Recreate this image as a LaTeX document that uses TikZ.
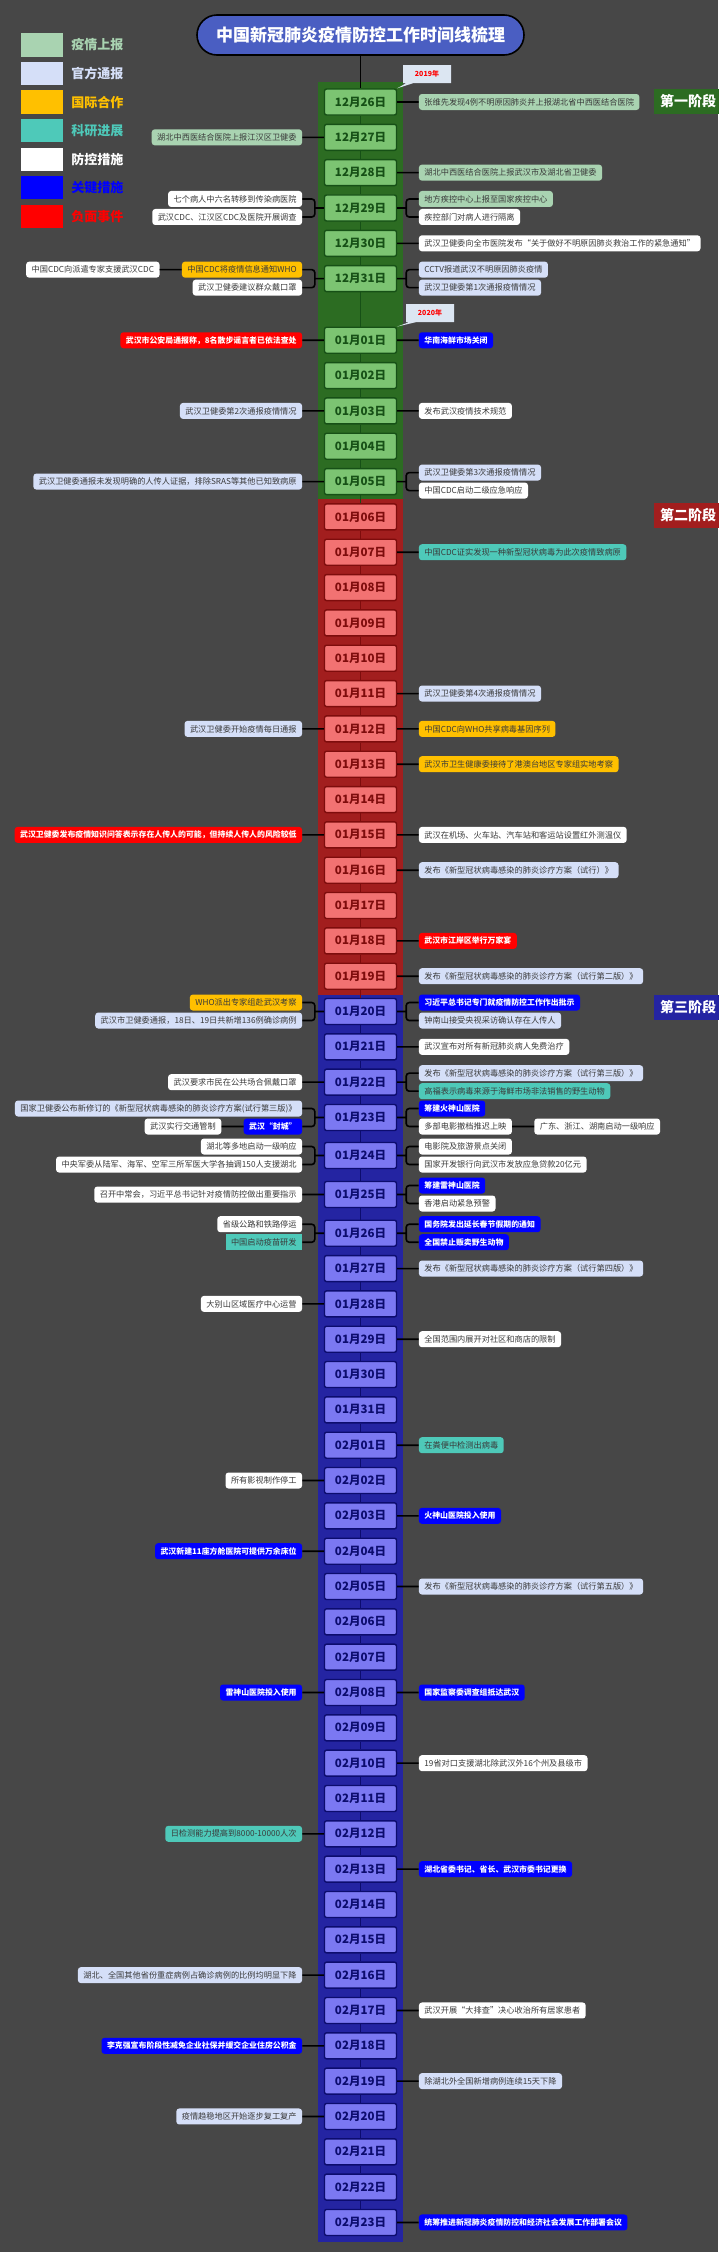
\documentclass[tikz,border=0pt]{standalone}
\usepackage{fontspec}
\newfontfamily\cjk{Noto Sans CJK SC}
\usetikzlibrary{positioning, calc, shapes.callouts}

\definecolor{bgcol}{HTML}{474747}
\definecolor{creport}{HTML}{A9D3B1}
\definecolor{cofficial}{HTML}{D5DFF8}
\definecolor{cintl}{HTML}{FFC000}
\definecolor{cresearch}{HTML}{4EC9B9}
\definecolor{ckey}{HTML}{0000FF}
\definecolor{cneg}{HTML}{FF0000}
\definecolor{cevtext}{HTML}{3A3A3A}
\definecolor{gband}{HTML}{2C6C22}
\definecolor{gfill}{HTML}{7CC472}
\definecolor{gline}{HTML}{165016}
\definecolor{rband}{HTML}{A21E1E}
\definecolor{rfill}{HTML}{F27272}
\definecolor{rline}{HTML}{7E0C0C}
\definecolor{bband}{HTML}{2424A2}
\definecolor{bfill}{HTML}{7B78F2}
\definecolor{bline}{HTML}{0C0C6E}
\definecolor{titlefill}{HTML}{4A5EC2}
\definecolor{ccall}{HTML}{DCE6F2}

\tikzset{
    datebox/.style={draw, rounded corners=2pt, line width=1.4pt, minimum width=72pt,
        minimum height=26pt, inner sep=0pt, font=\cjk\bfseries\fontsize{11.5}{12}\selectfont},
    gdate/.style={datebox, fill=gfill, draw=gline, text=gline},
    rdate/.style={datebox, fill=rfill, draw=rline, text=rline},
    bdate/.style={datebox, fill=bfill, draw=bline, text=bline},
    ev/.style={rounded corners=3pt, minimum height=16pt, inner xsep=5.5pt, inner ysep=0pt,
        text=cevtext, font=\cjk\fontsize{8.2}{9}\selectfont},
    evreport/.style={ev, fill=creport},
    evofficial/.style={ev, fill=cofficial},
    evintl/.style={ev, fill=cintl},
    evresearch/.style={ev, fill=cresearch},
    evmeasure/.style={ev, fill=white},
    evkey/.style={ev, fill=ckey, text=white, font=\cjk\bfseries\fontsize{7.9}{9}\selectfont},
    evneg/.style={ev, fill=cneg, text=white, font=\cjk\bfseries\fontsize{7.9}{9}\selectfont},
    conn/.style={line width=1.6pt, black, rounded corners=3pt},
    legbox/.style={minimum width=42pt, minimum height=23.3pt, inner sep=0pt},
    legtext/.style={inner sep=0pt, font=\cjk\bfseries\fontsize{13}{14}\selectfont},
    stagebox/.style={minimum width=68pt, minimum height=25pt, inner sep=0pt, text=white,
        font=\cjk\bfseries\fontsize{14}{15}\selectfont},
    yearcall/.style={rectangle callout, fill=ccall, text=red, minimum width=48pt,
        minimum height=18pt, inner sep=1pt, font=\cjk\bfseries\fontsize{7}{8}\selectfont},
}

\begin{document}
\begin{tikzpicture}[x=1pt, y=-1pt, node distance=35.33pt]
    \fill[bgcol] (0,0) rectangle (718,2252);
    \useasboundingbox (0,0) rectangle (718,2252);

    % legend
    \node[legbox, fill=creport] (lg1) at (42,45) {};
    \node[legbox, fill=cofficial, below of=lg1, node distance=28.55pt] (lg2) {};
    \node[legbox, fill=cintl, below of=lg2, node distance=28.55pt] (lg3) {};
    \node[legbox, fill=cresearch, below of=lg3, node distance=28.55pt] (lg4) {};
    \node[legbox, fill=white, below of=lg4, node distance=28.55pt] (lg5) {};
    \node[legbox, fill=ckey, below of=lg5, node distance=28.55pt] (lg6) {};
    \node[legbox, fill=cneg, below of=lg6, node distance=28.55pt] (lg7) {};
    \node[legtext, text=creport, right=8pt of lg1] (lt1) {疫情上报};
    \node[legtext, text=cofficial, right=8pt of lg2] (lt2) {官方通报};
    \node[legtext, text=cintl, right=8pt of lg3] (lt3) {国际合作};
    \node[legtext, text=cresearch, right=8pt of lg4] (lt4) {科研进展};
    \node[legtext, text=white, right=8pt of lg5] (lt5) {防控措施};
    \node[legtext, text=ckey, right=8pt of lg6] (lt6) {关键措施};
    \node[legtext, text=cneg, right=8pt of lg7] (lt7) {负面事件};

    % title
    \node[draw=black, line width=1.6pt, fill=titlefill, rounded corners=20pt, minimum width=327pt,
        minimum height=40pt, text=white, font=\cjk\bfseries\fontsize{17}{18}\selectfont]
        (title) at (360.5,35) {中国新冠肺炎疫情防控工作时间线梳理};

    % stage bands
    \fill[gband] (318,82) rectangle (403,499);
    \fill[rband] (318,499) rectangle (403,995);
    \fill[bband] (318,995) rectangle (403,2242);
    \node[stagebox, fill=gband] (st1) at (688,101) {第一阶段};
    \node[stagebox, fill=rband] (st2) at (688,515.5) {第二阶段};
    \node[stagebox, fill=bband] (st3) at (688,1007) {第三阶段};

    % dates
    \node[gdate] (d1226) at (360.5,102) {12月26日};
    \node[gdate, below of=d1226] (d1227) {12月27日};
    \node[gdate, below of=d1227] (d1228) {12月28日};
    \node[gdate, below of=d1228] (d1229) {12月29日};
    \node[gdate, below of=d1229] (d1230) {12月30日};
    \node[gdate, below of=d1230] (d1231) {12月31日};
    \node[gdate, below of=d1231, node distance=61.6pt] (d0101) {01月01日};
    \node[gdate, below of=d0101] (d0102) {01月02日};
    \node[gdate, below of=d0102] (d0103) {01月03日};
    \node[gdate, below of=d0103] (d0104) {01月04日};
    \node[gdate, below of=d0104] (d0105) {01月05日};
    \node[rdate, below of=d0105] (d0106) {01月06日};
    \node[rdate, below of=d0106] (d0107) {01月07日};
    \node[rdate, below of=d0107] (d0108) {01月08日};
    \node[rdate, below of=d0108] (d0109) {01月09日};
    \node[rdate, below of=d0109] (d0110) {01月10日};
    \node[rdate, below of=d0110] (d0111) {01月11日};
    \node[rdate, below of=d0111] (d0112) {01月12日};
    \node[rdate, below of=d0112] (d0113) {01月13日};
    \node[rdate, below of=d0113] (d0114) {01月14日};
    \node[rdate, below of=d0114] (d0115) {01月15日};
    \node[rdate, below of=d0115] (d0116) {01月16日};
    \node[rdate, below of=d0116] (d0117) {01月17日};
    \node[rdate, below of=d0117] (d0118) {01月18日};
    \node[rdate, below of=d0118] (d0119) {01月19日};
    \node[bdate, below of=d0119] (d0120) {01月20日};
    \node[bdate, below of=d0120] (d0121) {01月21日};
    \node[bdate, below of=d0121] (d0122) {01月22日};
    \node[bdate, below of=d0122] (d0123) {01月23日};
    \node[bdate, below of=d0123, node distance=38pt] (d0124) {01月24日};
    \node[bdate, below of=d0124, node distance=39pt] (d0125) {01月25日};
    \node[bdate, below of=d0125, node distance=38.7pt] (d0126) {01月26日};
    \node[bdate, below of=d0126] (d0127) {01月27日};
    \node[bdate, below of=d0127] (d0128) {01月28日};
    \node[bdate, below of=d0128] (d0129) {01月29日};
    \node[bdate, below of=d0129] (d0130) {01月30日};
    \node[bdate, below of=d0130] (d0131) {01月31日};
    \node[bdate, below of=d0131] (d0201) {02月01日};
    \node[bdate, below of=d0201] (d0202) {02月02日};
    \node[bdate, below of=d0202] (d0203) {02月03日};
    \node[bdate, below of=d0203] (d0204) {02月04日};
    \node[bdate, below of=d0204] (d0205) {02月05日};
    \node[bdate, below of=d0205] (d0206) {02月06日};
    \node[bdate, below of=d0206] (d0207) {02月07日};
    \node[bdate, below of=d0207] (d0208) {02月08日};
    \node[bdate, below of=d0208] (d0209) {02月09日};
    \node[bdate, below of=d0209] (d0210) {02月10日};
    \node[bdate, below of=d0210] (d0211) {02月11日};
    \node[bdate, below of=d0211] (d0212) {02月12日};
    \node[bdate, below of=d0212] (d0213) {02月13日};
    \node[bdate, below of=d0213] (d0214) {02月14日};
    \node[bdate, below of=d0214] (d0215) {02月15日};
    \node[bdate, below of=d0215] (d0216) {02月16日};
    \node[bdate, below of=d0216] (d0217) {02月17日};
    \node[bdate, below of=d0217] (d0218) {02月18日};
    \node[bdate, below of=d0218] (d0219) {02月19日};
    \node[bdate, below of=d0219] (d0220) {02月20日};
    \node[bdate, below of=d0220] (d0221) {02月21日};
    \node[bdate, below of=d0221] (d0222) {02月22日};
    \node[bdate, below of=d0222] (d0223) {02月23日};

    % year marks
    \node[yearcall, callout absolute pointer={(d1226.north east)}] (y2019) at (427,74) {2019年};
    \node[yearcall, callout absolute pointer={(d0101.north east)}] (y2020) at (430,313) {2020年};

    % events, first stage
    \node[evreport, right=21.5pt of d1226] (eR1226) {张维先发现4例不明原因肺炎并上报湖北省中西医结合医院};
    \node[evreport, left=21.5pt of d1227] (eL1227) {湖北中西医结合医院上报江汉区卫健委};
    \node[evreport, right=21.5pt of d1228] (eR1228) {湖北中西医结合医院上报武汉市及湖北省卫健委};
    \node[evmeasure, left=21.5pt of d1229, yshift=9pt] (eL1229a) {七个病人中六名转移到传染病医院};
    \node[evmeasure, left=21.5pt of d1229, yshift=-9pt] (eL1229b) {武汉CDC、江汉区CDC及医院开展调查};
    \node[evreport, right=21.5pt of d1229, yshift=9pt] (eR1229a) {地方疾控中心上报至国家疾控中心};
    \node[evmeasure, right=21.5pt of d1229, yshift=-9pt] (eR1229b) {疾控部门对病人进行隔离};
    \node[evmeasure, right=21.5pt of d1230] (eR1230) {武汉卫健委向全市医院发布“关于做好不明原因肺炎救治工作的紧急通知”};
    \node[evintl, left=21.5pt of d1231, yshift=9pt] (eL1231a) {中国CDC将疫情信息通知WHO};
    \node[evmeasure, left=22pt of eL1231a] (eL1231c) {中国CDC向派遣专家支援武汉CDC};
    \node[evmeasure, left=21.5pt of d1231, yshift=-9pt] (eL1231b) {武汉卫健委建议群众戴口罩};
    \node[evofficial, right=21.5pt of d1231, yshift=9pt] (eR1231a) {CCTV报道武汉不明原因肺炎疫情};
    \node[evofficial, right=21.5pt of d1231, yshift=-9pt] (eR1231b) {武汉卫健委第1次通报疫情情况};
    \node[evneg, left=21.5pt of d0101] (eL0101) {武汉市公安局通报称，8名散步谣言者已依法查处};
    \node[evkey, right=21.5pt of d0101] (eR0101) {华南海鲜市场关闭};
    \node[evofficial, left=21.5pt of d0103] (eL0103) {武汉卫健委第2次通报疫情情况};
    \node[evmeasure, right=21.5pt of d0103] (eR0103) {发布武汉疫情技术规范};
    \node[evofficial, left=21.5pt of d0105] (eL0105) {武汉卫健委通报未发现明确的人传人证据，排除SRAS等其他已知致病原};
    \node[evofficial, right=21.5pt of d0105, yshift=9pt] (eR0105a) {武汉卫健委第3次通报疫情情况};
    \node[evmeasure, right=21.5pt of d0105, yshift=-9pt] (eR0105b) {中国CDC启动二级应急响应};

    % events, second stage
    \node[evresearch, right=21.5pt of d0107] (eR0107) {中国CDC证实发现一种新型冠状病毒为此次疫情致病原};
    \node[evofficial, right=21.5pt of d0111] (eR0111) {武汉卫健委第4次通报疫情情况};
    \node[evofficial, left=21.5pt of d0112] (eL0112) {武汉卫健委开始疫情每日通报};
    \node[evintl, right=21.5pt of d0112] (eR0112) {中国CDC向WHO共享病毒基因序列};
    \node[evintl, right=21.5pt of d0113] (eR0113) {武汉市卫生健康委接待了港澳台地区专家组实地考察};
    \node[evneg, left=21.5pt of d0115] (eL0115) {武汉卫健委发布疫情知识问答表示存在人传人的可能，但持续人传人的风险较低};
    \node[evmeasure, right=21.5pt of d0115] (eR0115) {武汉在机场、火车站、汽车站和客运站设置红外测温仪};
    \node[evofficial, right=21.5pt of d0116] (eR0116) {发布《新型冠状病毒感染的肺炎诊疗方案（试行）》};
    \node[evneg, right=21.5pt of d0118] (eR0118) {武汉市江岸区举行万家宴};
    \node[evofficial, right=21.5pt of d0119] (eR0119) {发布《新型冠状病毒感染的肺炎诊疗方案（试行第二版）》};

    % events, third stage
    \node[evintl, left=21.5pt of d0120, yshift=9pt] (eL0120a) {WHO派出专家组赴武汉考察};
    \node[evofficial, left=21.5pt of d0120, yshift=-9pt] (eL0120b) {武汉市卫健委通报，18日、19日共新增136例确诊病例};
    \node[evkey, right=21.5pt of d0120, yshift=9pt] (eR0120a) {习近平总书记专门就疫情防控工作作出批示};
    \node[evofficial, right=21.5pt of d0120, yshift=-9pt] (eR0120b) {钟南山接受央视采访确认存在人传人};
    \node[evmeasure, right=21.5pt of d0121] (eR0121) {武汉宣布对所有新冠肺炎病人免费治疗};
    \node[evmeasure, left=21.5pt of d0122] (eL0122) {武汉要求市民在公共场合佩戴口罩};
    \node[evofficial, right=21.5pt of d0122, yshift=9pt] (eR0122a) {发布《新型冠状病毒感染的肺炎诊疗方案（试行第三版）》};
    \node[evresearch, right=21.5pt of d0122, yshift=-9pt] (eR0122b) {高福表示病毒来源于海鲜市场非法销售的野生动物};
    \node[evofficial, left=21.5pt of d0123, yshift=9pt] (eL0123a) {国家卫健委公布新修订的《新型冠状病毒感染的肺炎诊疗方案(试行第三版)》};
    \node[evkey, left=21.5pt of d0123, yshift=-9pt] (eL0123b) {武汉“封城”};
    \node[evmeasure, left=22pt of eL0123b] (eL0123c) {武汉实行交通管制};
    \node[evkey, right=21.5pt of d0123, yshift=9pt] (eR0123a) {筹建火神山医院};
    \node[evmeasure, right=21.5pt of d0123, yshift=-9pt] (eR0123b) {多部电影撤档推迟上映};
    \node[evmeasure, right=22pt of eR0123b] (eR0123c) {广东、浙江、湖南启动一级响应};
    \node[evmeasure, left=21.5pt of d0124, yshift=9pt] (eL0124a) {湖北等多地启动一级响应};
    \node[evmeasure, left=21.5pt of d0124, yshift=-9pt] (eL0124b) {中央军委从陆军、海军、空军三所军医大学各抽调150人支援湖北};
    \node[evmeasure, right=21.5pt of d0124, yshift=9pt] (eR0124a) {电影院及旅游景点关闭};
    \node[evmeasure, right=21.5pt of d0124, yshift=-9pt] (eR0124b) {国家开发银行向武汉市发放应急贷款20亿元};
    \node[evmeasure, left=21.5pt of d0125] (eL0125) {召开中常会，习近平总书记针对疫情防控做出重要指示};
    \node[evkey, right=21.5pt of d0125, yshift=9pt] (eR0125a) {筹建雷神山医院};
    \node[evmeasure, right=21.5pt of d0125, yshift=-9pt] (eR0125b) {香港启动紧急预警};
    \node[evmeasure, left=21.5pt of d0126, yshift=9pt] (eL0126a) {省级公路和铁路停运};
    \node[evresearch, rounded corners=0pt, left=21.5pt of d0126, yshift=-9pt] (eL0126b) {中国启动疫苗研发};
    \node[evkey, right=21.5pt of d0126, yshift=9pt] (eR0126a) {国务院发出延长春节假期的通知};
    \node[evkey, right=21.5pt of d0126, yshift=-9pt] (eR0126b) {全国禁止贩卖野生动物};
    \node[evofficial, right=21.5pt of d0127] (eR0127) {发布《新型冠状病毒感染的肺炎诊疗方案（试行第四版）》};
    \node[evmeasure, left=21.5pt of d0128] (eL0128) {大别山区域医疗中心运营};
    \node[evmeasure, right=21.5pt of d0129] (eR0129) {全国范围内展开对社区和商店的限制};
    \node[evresearch, right=21.5pt of d0201] (eR0201) {在粪便中检测出病毒};
    \node[evmeasure, left=21.5pt of d0202] (eL0202) {所有影视制作停工};
    \node[evkey, right=21.5pt of d0203] (eR0203) {火神山医院投入使用};
    \node[evkey, left=21.5pt of d0204] (eL0204) {武汉新建11座方舱医院可提供万余床位};
    \node[evofficial, right=21.5pt of d0205] (eR0205) {发布《新型冠状病毒感染的肺炎诊疗方案（试行第五版）》};
    \node[evkey, left=21.5pt of d0208] (eL0208) {雷神山医院投入使用};
    \node[evkey, right=21.5pt of d0208] (eR0208) {国家监察委调查组抵达武汉};
    \node[evmeasure, right=21.5pt of d0210] (eR0210) {19省对口支援湖北除武汉外16个州及县级市};
    \node[evresearch, left=21.5pt of d0212] (eL0212) {日检测能力提高到8000-10000人次};
    \node[evkey, right=21.5pt of d0213] (eR0213) {湖北省委书记、省长、武汉市委书记更换};
    \node[evofficial, left=21.5pt of d0216] (eL0216) {湖北、全国其他省份重症病例占确诊病例的比例均明显下降};
    \node[evmeasure, right=21.5pt of d0217] (eR0217) {武汉开展“大排查”决心收治所有居家患者};
    \node[evkey, left=21.5pt of d0218] (eL0218) {李克强宣布阶段性减免企业社保并缓交企业住房公积金};
    \node[evofficial, right=21.5pt of d0219] (eR0219) {除湖北外全国新增病例连续15天下降};
    \node[evofficial, left=21.5pt of d0220] (eL0220) {疫情趋稳地区开始逐步复工复产};
    \node[evkey, right=21.5pt of d0223] (eR0223) {统筹推进新冠肺炎疫情防控和经济社会发展工作部署会议};

    % spine
    \draw[conn] (title) -- (d1226);
    \draw[line width=1.6pt, gline]
        (d1226) -- (d1227) (d1227) -- (d1228) (d1228) -- (d1229) (d1229) -- (d1230)
        (d1230) -- (d1231) (d1231) -- (d0101) (d0101) -- (d0102) (d0102) -- (d0103)
        (d0103) -- (d0104) (d0104) -- (d0105) (d0105) -- (d0106);
    \draw[line width=1.6pt, rline]
        (d0106) -- (d0107) (d0107) -- (d0108) (d0108) -- (d0109) (d0109) -- (d0110)
        (d0110) -- (d0111) (d0111) -- (d0112) (d0112) -- (d0113) (d0113) -- (d0114)
        (d0114) -- (d0115) (d0115) -- (d0116) (d0116) -- (d0117) (d0117) -- (d0118)
        (d0118) -- (d0119) (d0119) -- (d0120);
    \draw[line width=1.6pt, bline]
        (d0120) -- (d0121) (d0121) -- (d0122) (d0122) -- (d0123) (d0123) -- (d0124)
        (d0124) -- (d0125) (d0125) -- (d0126) (d0126) -- (d0127) (d0127) -- (d0128)
        (d0128) -- (d0129) (d0129) -- (d0130) (d0130) -- (d0131) (d0131) -- (d0201)
        (d0201) -- (d0202) (d0202) -- (d0203) (d0203) -- (d0204) (d0204) -- (d0205)
        (d0205) -- (d0206) (d0206) -- (d0207) (d0207) -- (d0208) (d0208) -- (d0209)
        (d0209) -- (d0210) (d0210) -- (d0211) (d0211) -- (d0212) (d0212) -- (d0213)
        (d0213) -- (d0214) (d0214) -- (d0215) (d0215) -- (d0216) (d0216) -- (d0217)
        (d0217) -- (d0218) (d0218) -- (d0219) (d0219) -- (d0220) (d0220) -- (d0221)
        (d0221) -- (d0222) (d0222) -- (d0223);

    % connectors
    \draw[conn]
        (d1226) -- (eR1226)
        (d1227) -- (eL1227)
        (d1228) -- (eR1228)
        (eL1229a.east) -| ([xshift=-9pt]d1229.west) |- (eL1229b.east)
        (d1229.west) -- ([xshift=-9pt]d1229.west)
        (eR1229a.west) -| ([xshift=9pt]d1229.east) |- (eR1229b.west)
        (d1229.east) -- ([xshift=9pt]d1229.east)
        (d1230) -- (eR1230)
        (eL1231a.east) -| ([xshift=-9pt]d1231.west) |- (eL1231b.east)
        (d1231.west) -- ([xshift=-9pt]d1231.west)
        (eL1231a) -- (eL1231c)
        (eR1231a.west) -| ([xshift=9pt]d1231.east) |- (eR1231b.west)
        (d1231.east) -- ([xshift=9pt]d1231.east)
        (d0101) -- (eL0101)
        (d0101) -- (eR0101)
        (d0103) -- (eL0103)
        (d0103) -- (eR0103)
        (d0105) -- (eL0105)
        (eR0105a.west) -| ([xshift=9pt]d0105.east) |- (eR0105b.west)
        (d0105.east) -- ([xshift=9pt]d0105.east)
        (d0107) -- (eR0107)
        (d0111) -- (eR0111)
        (d0112) -- (eL0112)
        (d0112) -- (eR0112)
        (d0113) -- (eR0113)
        (d0115) -- (eL0115)
        (d0115) -- (eR0115)
        (d0116) -- (eR0116)
        (d0118) -- (eR0118)
        (d0119) -- (eR0119)
        (eL0120a.east) -| ([xshift=-9pt]d0120.west) |- (eL0120b.east)
        (d0120.west) -- ([xshift=-9pt]d0120.west)
        (eR0120a.west) -| ([xshift=9pt]d0120.east) |- (eR0120b.west)
        (d0120.east) -- ([xshift=9pt]d0120.east)
        (d0121) -- (eR0121)
        (d0122) -- (eL0122)
        (eR0122a.west) -| ([xshift=9pt]d0122.east) |- (eR0122b.west)
        (d0122.east) -- ([xshift=9pt]d0122.east)
        (eL0123a.east) -| ([xshift=-9pt]d0123.west) |- (eL0123b.east)
        (d0123.west) -- ([xshift=-9pt]d0123.west)
        (eL0123b) -- (eL0123c)
        (eR0123a.west) -| ([xshift=9pt]d0123.east) |- (eR0123b.west)
        (d0123.east) -- ([xshift=9pt]d0123.east)
        (eR0123b) -- (eR0123c)
        (eL0124a.east) -| ([xshift=-9pt]d0124.west) |- (eL0124b.east)
        (d0124.west) -- ([xshift=-9pt]d0124.west)
        (eR0124a.west) -| ([xshift=9pt]d0124.east) |- (eR0124b.west)
        (d0124.east) -- ([xshift=9pt]d0124.east)
        (d0125) -- (eL0125)
        (eR0125a.west) -| ([xshift=9pt]d0125.east) |- (eR0125b.west)
        (d0125.east) -- ([xshift=9pt]d0125.east)
        (eL0126a.east) -| ([xshift=-9pt]d0126.west) |- (eL0126b.east)
        (d0126.west) -- ([xshift=-9pt]d0126.west)
        (eR0126a.west) -| ([xshift=9pt]d0126.east) |- (eR0126b.west)
        (d0126.east) -- ([xshift=9pt]d0126.east)
        (d0127) -- (eR0127)
        (d0128) -- (eL0128)
        (d0129) -- (eR0129)
        (d0201) -- (eR0201)
        (d0202) -- (eL0202)
        (d0203) -- (eR0203)
        (d0204) -- (eL0204)
        (d0205) -- (eR0205)
        (d0208) -- (eL0208)
        (d0208) -- (eR0208)
        (d0210) -- (eR0210)
        (d0212) -- (eL0212)
        (d0213) -- (eR0213)
        (d0216) -- (eL0216)
        (d0217) -- (eR0217)
        (d0218) -- (eL0218)
        (d0219) -- (eR0219)
        (d0220) -- (eL0220)
        (d0223) -- (eR0223)
        ;
\end{tikzpicture}
\end{document}
